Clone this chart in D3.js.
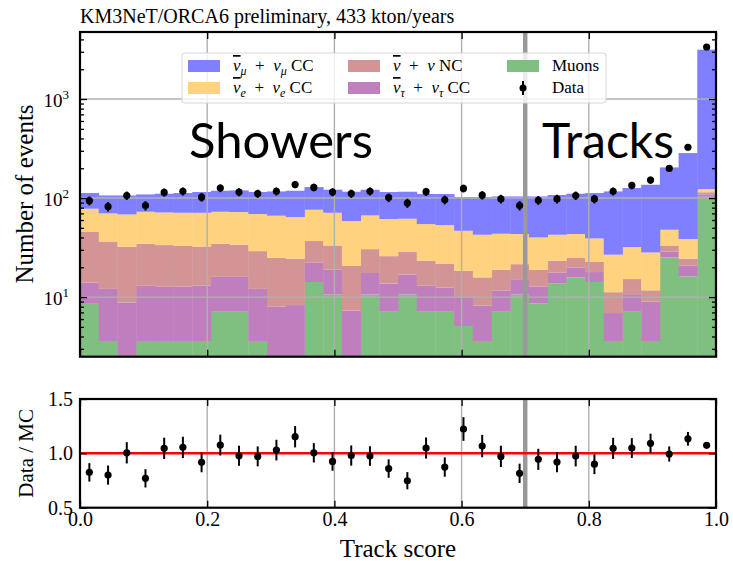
<!doctype html>
<html>
<head>
<meta charset="utf-8">
<title>ORCA6 track score</title>
<style>
body { margin:0; background:#fff; }
svg text { font-family: "Liberation Serif", "DejaVu Serif", serif; fill:#000; }
</style>
</head>
<body>
<div id="chart"></div>
<script src="https://d3js.org/d3.v7.min.js"></script>
<script>
// 34 bins of track score between 0 and 1
var nBins = 34;

// expected events per bin, one array per component (stacked bottom -> top)
var muons   = [8.7, 3.6, 0, 3.6, 3.6, 3.6, 3.6, 7.1, 7.1, 3.6, 0, 0, 14.2, 10.6, 0, 10.6, 7.1,
               10.6, 7.1, 7.1, 5.1, 3.6, 7.1, 10.6, 8.6, 13.8, 15.8, 14.2, 3.6, 7.1, 3.6, 25.1, 16.2, 103];
var nutauCC = [5.3, 8.5, 8.8, 9.4, 9.1, 9.2, 9.5, 8.9, 8.9, 8.5, 8.0, 8.3, 8.0, 8.3, 7.3, 6.9, 6.6,
               6.3, 5.9, 5.4, 4.7, 4.6, 4.5, 4.3, 4.2, 3.8, 4.1, 3.7, 3.3, 3.6, 5.4, 3.8, 4.7, 6.1];
var nuNC    = [31.4, 24.3, 23.4, 21.5, 20.8, 20.2, 19.3, 18.5, 17.8, 17.0, 16.9, 16.1, 14.6, 14.3, 13.4, 13.0, 12.2,
               11.6, 10.3, 9.3, 8.6, 7.6, 7.3, 6.6, 6.1, 5.7, 4.9, 4.7, 4.3, 4.5, 2.7, 4.3, 3.5, 5.3];
var nueCC   = [32.6, 33.5, 36.1, 38.2, 38.0, 38.0, 38.6, 38.2, 38.4, 39.8, 41.4, 39.9, 39.4, 37.8, 37.9, 36.2, 35.5,
               33.3, 31.3, 31.6, 28.3, 26.8, 24.7, 21.8, 21.1, 19.3, 18.5, 16.5, 15.6, 16.8, 16.5, 14.6, 14.1, 8.8];
var numuCC  = [34.3, 36.3, 37.9, 36.1, 39.0, 41.3, 44.0, 45.8, 47.2, 46.1, 50.3, 54.2, 52.9, 50.3, 57.2, 54.6, 53.6,
               54.0, 55.2, 56.4, 55.6, 59.7, 60.2, 60.5, 63.8, 64.6, 67.2, 73.2, 89.8, 94.2, 108, 156, 246, 3025];

// observed events
var dataCounts = [94, 82, 106, 84, 114, 117, 102, 126, 115, 111, 117, 137, 128, 115, 111, 117, 101,
                  89, 116, 96, 125, 107, 98, 84, 95, 98, 106, 98, 117, 134, 152, 199, 325, 3350];

// data / MC and its error
var ratio    = [0.825, 0.80, 1.005, 0.77, 1.046, 1.055, 0.917, 1.076, 0.978, 0.972, 1.03, 1.153, 1.005, 0.926, 0.98, 0.975, 0.86,
                0.748, 1.049, 0.874, 1.224, 1.067, 0.972, 0.816, 0.945, 0.92, 0.975, 0.90, 1.046, 1.049, 1.092, 0.994, 1.134, 1.074];
var ratioErr = [0.085, 0.088, 0.098, 0.084, 0.098, 0.098, 0.091, 0.096, 0.091, 0.092, 0.095, 0.098, 0.089, 0.086, 0.093, 0.09, 0.085,
                0.079, 0.097, 0.089, 0.109, 0.103, 0.098, 0.089, 0.097, 0.093, 0.095, 0.091, 0.097, 0.091, 0.089, 0.070, 0.063, 0.019];

var xTicks = [0, 0.2, 0.4, 0.6, 0.8, 1.0];
var ratioTicks = [0.5, 1.0, 1.5];
var topMajor = [10, 100, 1000];

var keys = ["muons", "nutau", "nc", "nue", "numu"];
var colors = {numu: "#7f7fff", nue: "#ffd27f", nc: "#d29494", nutau: "#bf7fbf", muons: "#7fbf7f"};

// layout
var W = 733, H = 561;
var L = 80, R = 716;
var topY0 = 32, topY1 = 356.7;
var botY0 = 399, botY1 = 507.7;
var yMin = 2.5, yMax = 4750;

var svg = d3.select("#chart").append("svg").attr("width", W).attr("height", H);

var x = d3.scaleLinear().domain([0, 1]).range([L, R]);
var yTop = d3.scaleLog().domain([yMin, yMax]).range([topY1, topY0]);
var yBot = d3.scaleLinear().domain([0.5, 1.5]).range([botY1, botY0]);

var edges = d3.range(nBins + 1).map(function(i) { return i / nBins; });
var centers = d3.range(nBins).map(function(i) { return (i + 0.5) / nBins; });

// table for the stack
var table = d3.range(nBins).map(function(i) {
  return {bin: i, muons: muons[i], nutau: nutauCC[i], nc: nuNC[i], nue: nueCC[i], numu: numuCC[i]};
});
var series = d3.stack().keys(keys)(table);

svg.append("defs").append("clipPath").attr("id", "clipTop")
  .append("rect").attr("x", L).attr("y", topY0).attr("width", R - L).attr("height", topY1 - topY0);

// ---------- top panel ----------
var gTop = svg.append("g");
var bars = gTop.append("g").attr("clip-path", "url(#clipTop)");
function yc(v) { return yTop(Math.max(v, yMin * 0.9)); }
series.forEach(function(s) {
  bars.selectAll(null).data(s).enter().append("rect")
    .attr("x", function(d) { return x(edges[d.data.bin]); })
    .attr("width", function(d) { return x(edges[d.data.bin + 1]) - x(edges[d.data.bin]) + 0.4; })
    .attr("y", function(d) { return yc(d[1]); })
    .attr("height", function(d) { return Math.max(0, yc(d[0]) - yc(d[1])); })
    .attr("fill", colors[s.key]);
});

// grid
gTop.append("g").selectAll("line").data([0.2, 0.4, 0.6, 0.8]).enter().append("line")
  .attr("x1", function(d) { return x(d); }).attr("x2", function(d) { return x(d); })
  .attr("y1", topY0).attr("y2", topY1).attr("stroke", "#b0b0b0").attr("stroke-width", 1.4);
gTop.append("g").selectAll("line").data(topMajor).enter().append("line")
  .attr("x1", L).attr("x2", R)
  .attr("y1", function(d) { return yTop(d); }).attr("y2", function(d) { return yTop(d); })
  .attr("stroke", "#b0b0b0").attr("stroke-width", 1.4);

// 0.7 separator
gTop.append("line").attr("x1", x(0.7)).attr("x2", x(0.7)).attr("y1", topY0).attr("y2", topY1)
  .attr("stroke", "#999999").attr("stroke-width", 4.5);

// Showers / Tracks labels
gTop.append("text").attr("x", 281).attr("y", 158).attr("text-anchor", "middle")
  .style("font-family", "Lato, sans-serif").style("font-size", "49px").text("Showers");
gTop.append("text").attr("x", 608).attr("y", 158).attr("text-anchor", "middle")
  .style("font-family", "Lato, sans-serif").style("font-size", "48px").text("Tracks");

// legend
var leg = gTop.append("g");
leg.append("rect").attr("x", 182).attr("y", 53).attr("width", 424).attr("height", 50)
  .attr("rx", 3).attr("fill", "#fff").attr("fill-opacity", 0.8).attr("stroke", "#d6d6d6");
var nu = "\u03BD", sp = "\u2002+\u2002";
var legendItems = [
  {key: "numu", col: 0, row: 0, parts: [[nu, "b"], ["\u03BC", "s"], [sp, ""], [nu, "i"], ["\u03BC", "s"], [" CC", ""]]},
  {key: "nue", col: 0, row: 1, parts: [[nu, "b"], ["e", "s"], [sp, ""], [nu, "i"], ["e", "s"], [" CC", ""]]},
  {key: "nc", col: 1, row: 0, parts: [[nu, "b"], [sp, ""], [nu, "i"], [" NC", ""]]},
  {key: "nutau", col: 1, row: 1, parts: [[nu, "b"], ["\u03C4", "s"], [sp, ""], [nu, "i"], ["\u03C4", "s"], [" CC", ""]]},
  {key: "muons", col: 2, row: 0, parts: [["Muons", ""]]},
  {key: "data", col: 2, row: 1, parts: [["Data", ""]]}
];
var colX = [188, 348, 507], rowY = [66, 88];
legendItems.forEach(function(it) {
  var px = colX[it.col], py = rowY[it.row];
  if (it.key === "data") {
    leg.append("line").attr("x1", px + 16).attr("x2", px + 16).attr("y1", py - 7).attr("y2", py + 7)
      .attr("stroke", "#000").attr("stroke-width", 2);
    leg.append("circle").attr("cx", px + 16).attr("cy", py).attr("r", 3.5).attr("fill", "#000");
  } else {
    leg.append("rect").attr("x", px).attr("y", py - 6).attr("width", 32).attr("height", 12)
      .attr("fill", colors[it.key]);
  }
  var t = leg.append("text").attr("x", px + 45).attr("y", py + 5).style("font-size", "17px");
  var shift = 0;
  it.parts.forEach(function(p) {
    var s = t.append("tspan").text(p[0]);
    if (p[1] === "s") {
      s.attr("dy", 4 - shift).style("font-size", "12px").style("font-style", "italic");
      shift = 4;
    } else {
      if (shift) { s.attr("dy", -shift); shift = 0; }
      if (p[1] === "i" || p[1] === "b") s.style("font-style", "italic");
      if (p[1] === "b") s.style("text-decoration", "overline");
    }
  });
});

// data points
var pts = gTop.append("g");
pts.selectAll("line").data(centers).enter().append("line")
  .attr("x1", function(d) { return x(d); }).attr("x2", function(d) { return x(d); })
  .attr("y1", function(d, i) { return yTop(dataCounts[i] * (1 + ratioErr[i] / ratio[i])); })
  .attr("y2", function(d, i) { return yTop(dataCounts[i] * (1 - ratioErr[i] / ratio[i])); })
  .attr("stroke", "#000").attr("stroke-width", 2);
pts.selectAll("circle").data(centers).enter().append("circle")
  .attr("cx", function(d) { return x(d); })
  .attr("cy", function(d, i) { return yTop(dataCounts[i]); })
  .attr("r", 3.6).attr("fill", "#000");

// axes top
var minorY = yTop.ticks().filter(function(v) { return topMajor.indexOf(v) < 0; });
function noDomain(g) { g.select(".domain").remove(); g.selectAll(".tick line").attr("stroke-width", 1.3); }
gTop.append("g").attr("transform", "translate(" + L + ",0)")
  .call(d3.axisLeft(yTop).tickValues(topMajor).tickSize(-7).tickFormat("")).call(noDomain);
gTop.append("g").attr("transform", "translate(" + L + ",0)")
  .call(d3.axisLeft(yTop).tickValues(minorY).tickSize(-4).tickFormat("")).call(noDomain);
gTop.append("g").attr("transform", "translate(" + R + ",0)")
  .call(d3.axisRight(yTop).tickValues(topMajor).tickSize(-7).tickFormat("")).call(noDomain);
gTop.append("g").attr("transform", "translate(" + R + ",0)")
  .call(d3.axisRight(yTop).tickValues(minorY).tickSize(-4).tickFormat("")).call(noDomain);
gTop.append("g").attr("transform", "translate(0," + topY0 + ")")
  .call(d3.axisTop(x).tickValues(xTicks).tickSize(-7).tickFormat("")).call(noDomain);
gTop.append("g").attr("transform", "translate(0," + topY1 + ")")
  .call(d3.axisBottom(x).tickValues(xTicks).tickSize(-7).tickFormat("")).call(noDomain);

// log labels 10^n
gTop.append("g").selectAll("text").data(topMajor).enter().append("text")
  .attr("x", 69).attr("y", function(d) { return yTop(d) + 8; }).attr("text-anchor", "end")
  .style("font-size", "19px")
  .each(function(d) {
    var t = d3.select(this);
    t.append("tspan").text("10");
    t.append("tspan").attr("dy", -8).style("font-size", "13px").text(String(Math.round(Math.log10(d))));
  });

gTop.append("rect").attr("x", L).attr("y", topY0).attr("width", R - L).attr("height", topY1 - topY0)
  .attr("fill", "none").attr("stroke", "#000").attr("stroke-width", 2.2);

svg.append("text").attr("x", 80).attr("y", 23).style("font-size", "20px")
  .text("KM3NeT/ORCA6 preliminary, 433 kton/years");
svg.append("text").attr("transform", "translate(33," + 194 + ") rotate(-90)")
  .attr("text-anchor", "middle").style("font-size", "25px").text("Number of events");

// ---------- ratio panel ----------
var gBot = svg.append("g");
gBot.append("g").selectAll("line").data([0.2, 0.4, 0.6, 0.8]).enter().append("line")
  .attr("x1", function(d) { return x(d); }).attr("x2", function(d) { return x(d); })
  .attr("y1", botY0).attr("y2", botY1).attr("stroke", "#b0b0b0").attr("stroke-width", 1.4);
gBot.append("line").attr("x1", x(0.7)).attr("x2", x(0.7)).attr("y1", botY0).attr("y2", botY1)
  .attr("stroke", "#999999").attr("stroke-width", 4.5);
gBot.append("line").attr("x1", L).attr("x2", R).attr("y1", yBot(1)).attr("y2", yBot(1))
  .attr("stroke", "#ff0000").attr("stroke-width", 2.5);

gBot.selectAll(".eb").data(centers).enter().append("line").attr("class", "eb")
  .attr("x1", function(d) { return x(d); }).attr("x2", function(d) { return x(d); })
  .attr("y1", function(d, i) { return yBot(ratio[i] + ratioErr[i]); })
  .attr("y2", function(d, i) { return yBot(ratio[i] - ratioErr[i]); })
  .attr("stroke", "#000").attr("stroke-width", 2);
gBot.selectAll("circle").data(centers).enter().append("circle")
  .attr("cx", function(d) { return x(d); })
  .attr("cy", function(d, i) { return yBot(ratio[i]); })
  .attr("r", 3.6).attr("fill", "#000");

gBot.append("g").attr("transform", "translate(" + L + ",0)")
  .call(d3.axisLeft(yBot).tickValues(ratioTicks).tickSize(-7).tickPadding(7).tickFormat(d3.format(".1f")))
  .call(noDomain);
gBot.append("g").attr("transform", "translate(" + R + ",0)")
  .call(d3.axisRight(yBot).tickValues(ratioTicks).tickSize(-7).tickFormat("")).call(noDomain);
gBot.append("g").attr("transform", "translate(0," + botY0 + ")")
  .call(d3.axisTop(x).tickValues(xTicks).tickSize(-7).tickFormat("")).call(noDomain);
gBot.append("g").attr("transform", "translate(0," + botY1 + ")")
  .call(d3.axisBottom(x).tickValues(xTicks).tickSize(-7).tickPadding(4).tickFormat(d3.format(".1f")))
  .call(noDomain);
gBot.selectAll(".tick text").style("font-size", "20px").style("font-family", "Liberation Serif, serif");

gBot.append("rect").attr("x", L).attr("y", botY0).attr("width", R - L).attr("height", botY1 - botY0)
  .attr("fill", "none").attr("stroke", "#000").attr("stroke-width", 2.2);

svg.append("text").attr("transform", "translate(33," + ((botY0 + botY1) / 2) + ") rotate(-90)")
  .attr("text-anchor", "middle").style("font-size", "21px").text("Data / MC");
svg.append("text").attr("x", x(0.5)).attr("y", 557).attr("text-anchor", "middle")
  .style("font-size", "25px").text("Track score");
</script>
</body>
</html>
